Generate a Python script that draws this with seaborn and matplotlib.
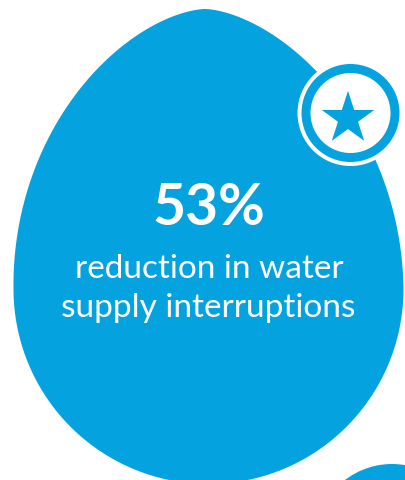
import numpy as np
import matplotlib
matplotlib.use("Agg")
import matplotlib.pyplot as plt
import seaborn as sns
from matplotlib.patches import Circle, Polygon

# ---- data ----
percent_value = 53
headline = f"{percent_value}%"
caption_lines = ["reduction in water", "supply interruptions"]

BLUE = "#04A3DF"
W, H = 405, 481

sns.set_theme(style="white")
plt.rcParams["font.family"] = ["Lato", "DejaVu Sans"]

fig = plt.figure(figsize=(W / 100, H / 100), dpi=100)
ax = fig.add_axes([0, 0, 1, 1])
ax.set_xlim(0, W)
ax.set_ylim(H, 0)
ax.axis("off")

# egg / drop shape
cx, cy, R, Htop, a = 208.5, 290.0, 195.0, 280.0, 1.22
t_low = np.linspace(0, np.pi, 300)
xl = cx + R * np.cos(t_low)
yl = cy + R * np.sin(t_low)
t_up = np.linspace(np.pi, 2 * np.pi, 400)
c = np.cos(t_up)
s = -np.sin(t_up)
xu = cx + R * np.sign(c) * np.abs(c) ** a - 3.5 * s
yu = cy - Htop * s
ax.add_patch(Polygon(np.column_stack([np.r_[xl, xu], np.r_[yl, yu]]),
                     closed=True, facecolor=BLUE, edgecolor="none", zorder=1))

# partial circle bottom-right
ax.add_patch(Circle((392, 542), 77, facecolor=BLUE, edgecolor="none", zorder=1))

# star badge
bx, by = 350.5, 114
ax.add_patch(Circle((bx, by), 53, facecolor="white", edgecolor="none", zorder=2))
ax.add_patch(Circle((bx, by), 49, facecolor=BLUE, edgecolor="none", zorder=3))
ax.add_patch(Circle((bx, by), 40, facecolor="white", edgecolor="none", zorder=4))
sx, sy, Ro = 348, 119.5, 27.6
Ri = Ro * 0.381966
ang = np.pi / 2 + np.arange(10) * np.pi / 5
rad = np.where(np.arange(10) % 2 == 0, Ro, Ri)
ax.add_patch(Polygon(np.column_stack([sx + rad * np.cos(ang), sy - rad * np.sin(ang)]),
                     closed=True, facecolor=BLUE, edgecolor="none", zorder=5))

# texts
ax.text(209, 225, headline, color="white", fontsize=41, fontweight="bold",
        ha="center", va="baseline", zorder=6)
ax.text(209, 278, caption_lines[0], color="white", fontsize=24,
        ha="center", va="baseline", zorder=6)
ax.text(208, 317, caption_lines[1], color="white", fontsize=24,
        ha="center", va="baseline", zorder=6)

fig.savefig("out.png", dpi=100, facecolor="white")
